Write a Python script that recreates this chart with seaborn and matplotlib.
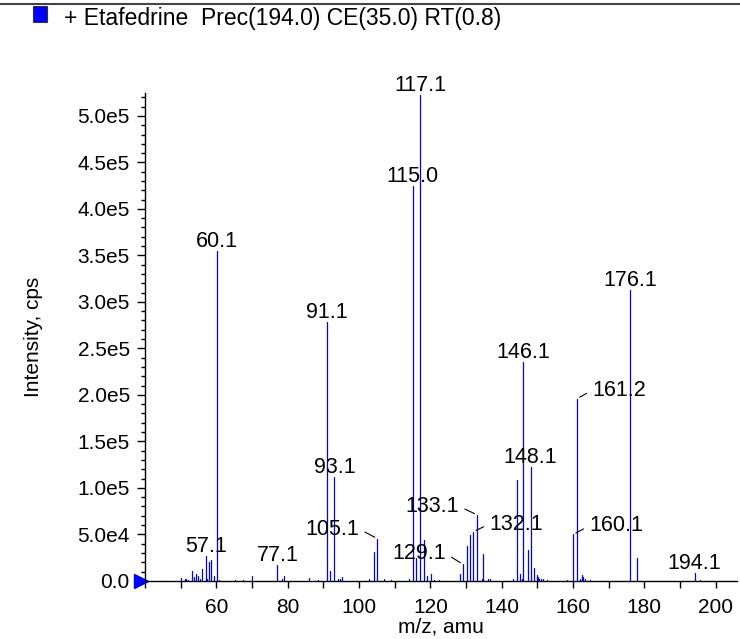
import numpy as np
import pandas as pd
import matplotlib
matplotlib.use('Agg')
import matplotlib.pyplot as plt
import seaborn as sns
from matplotlib.ticker import MultipleLocator, FuncFormatter
from matplotlib.patches import Rectangle

# ── Spectrum data (m/z, intensity in cps) ─────────────────────────────────────
mz = [50.1, 51.1, 51.4, 52.0, 53.1, 53.7, 54.4, 54.9, 55.3, 56.0,
      57.1, 57.4, 58.0, 58.6, 59.2, 60.1, 60.7, 65.1, 67.5, 70.0,
      77.1, 78.3, 79.0, 86.0, 88.5, 91.1, 91.9, 93.1, 94.0, 94.6,
      95.2, 102.8, 104.1, 105.1, 107.1, 108.9, 114.0, 115.0, 116.1, 117.1,
      118.1, 119.1, 120.1, 121.1, 122.5, 128.3, 129.1, 130.2, 131.1, 132.1,
      133.1, 134.4, 134.9, 136.3, 136.8, 143.3, 144.2, 145.1, 145.7, 146.1,
      147.3, 148.1, 149.2, 149.8, 150.1, 150.6, 151.1, 151.7, 152.6, 158.2,
      160.1, 161.2, 162.0, 162.4, 162.8, 163.4, 164.9, 176.1, 177.9, 194.1,
      195.6]
intensity = [2900, 1800, 2500, 1000, 10500, 4300, 7000, 5400, 2500, 13000,
             27000, 2500, 20500, 22000, 5000, 355000, 1000, 1200, 1000, 5000,
             17000, 1500, 5000, 3600, 1000, 278000, 10400, 112000, 2500, 1500,
             4500, 1500, 30800, 45500, 1500, 1200, 1800, 425000, 25000, 522000,
             44000, 5400, 7000, 1000, 1000, 7200, 17900, 37600, 49100, 53000,
             71000, 1800, 28700, 2300, 2300, 1800, 108000, 7200, 2500, 235000,
             33000, 122000, 13600, 6000, 4000, 2500, 2000, 2500, 1000, 1000,
             50000, 196000, 2500, 6400, 4600, 1500, 1000, 313000, 24300, 8200,
             1000]

# labelled peaks
label_mz = [57.1, 60.1, 77.1, 91.1, 93.1, 105.1, 115.0, 117.1, 129.1, 132.1,
            133.1, 146.1, 148.1, 160.1, 161.2, 176.1, 194.1]
label_text = ['57.1', '60.1', '77.1', '91.1', '93.1', '105.1', '115.0', '117.1',
              '129.1', '132.1', '133.1', '146.1', '148.1', '160.1', '161.2',
              '176.1', '194.1']

y_ticks = np.arange(0, 5.01e5, 5e4)

# labels pushed sideways with a leader line: (dx px, dy px, ha)
side_labels = {
    '105.1': (-18, 4, 'right'),
    '129.1': (-17, 5, 'right'),
    '133.1': (-18, 3, 'right'),
    '132.1': (16, 2, 'left'),
    '160.1': (16, 3, 'left'),
    '161.2': (15, 3, 'left'),
}

sns.set_theme(style='ticks', rc={'text.color': 'black', 'axes.labelcolor': 'black',
                                 'xtick.color': 'black', 'ytick.color': 'black',
                                 'axes.edgecolor': 'black'})
plt.rcParams['font.family'] = ['Liberation Sans', 'DejaVu Sans']

# each peak as a 2-point stick: (mz, 0) -> (mz, intensity)
sticks = pd.DataFrame({
    'peak': np.repeat(np.arange(len(mz)), 2),
    'mz': np.repeat(mz, 2),
    'intensity': np.ravel([[0, v] for v in intensity]),
})

fig = plt.figure(figsize=(7.4, 6.39), dpi=100)
ax = fig.add_axes([0.196, 0.091, 0.800, 0.764])

sns.lineplot(data=sticks, x='mz', y='intensity', units='peak', estimator=None,
             sort=False, color='#0000ff', linewidth=0.9, legend=False, ax=ax)

ax.set_xlim(40, 206)
ax.set_ylim(0, 5.25e5)
ax.set_xticks(range(60, 201, 20))
ax.xaxis.set_minor_locator(MultipleLocator(10))
ax.set_yticks(y_ticks)
ax.yaxis.set_minor_locator(MultipleLocator(1e4))

def sci_fmt(v, _):
    if v == 0:
        return '0.0'
    e = int(np.floor(np.log10(v)))
    return f'{v / 10**e:.1f}e{e}'

ax.yaxis.set_major_formatter(FuncFormatter(sci_fmt))
ax.tick_params(axis='x', which='both', length=5, width=1, pad=7,
               labelsize=15, color='black')
ax.tick_params(axis='y', which='major', length=6, width=1, pad=5,
               labelsize=15, color='black')
ax.tick_params(axis='y', which='minor', length=3, width=1, color='black')
sns.despine(ax=ax)
for s in ['left', 'bottom']:
    ax.spines[s].set_color('black')
    ax.spines[s].set_linewidth(1)

ax.set_xlabel('m/z, amu', fontsize=15, labelpad=1)
ax.set_ylabel('Intensity, cps', fontsize=15, labelpad=25)

# peak labels
for m, t in zip(label_mz, label_text):
    h = intensity[mz.index(m)]
    if t in side_labels:
        dx, dy, ha = side_labels[t]
        ax.annotate(t, xy=(m, h), xytext=(dx, dy), textcoords='offset pixels',
                    ha=ha, va='baseline', fontsize=15.5, color='black',
                    arrowprops=dict(arrowstyle='-', color='black', lw=0.8,
                                    shrinkA=2, shrinkB=2,
                                    relpos=(1, 0.5) if ha == 'right' else (0, 0.5)))
    else:
        ax.annotate(t, xy=(m, h), xytext=(0, 4), textcoords='offset pixels',
                    ha='center', va='baseline', fontsize=15.5, color='black')

# zero marker on the y axis
ax.plot([-0.007], [0], marker='>', color='#0000ff', markersize=10,
        transform=ax.get_yaxis_transform(), clip_on=False)

# header strip
fig.add_artist(plt.Line2D([0, 1], [0.994, 0.994], color='#444444', lw=1.5))
fig.add_artist(Rectangle((33 / 740, 1 - 22 / 639), 14 / 740, 16 / 639,
                         facecolor='#0000ff', edgecolor='#333333', lw=0.8))
fig.text(64 / 740, 1 - 19 / 639, '+ Etafedrine  Prec(194.0) CE(35.0) RT(0.8)',
         ha='left', va='center', fontsize=16.5, color='black')

fig.savefig('out.png', dpi=100)
